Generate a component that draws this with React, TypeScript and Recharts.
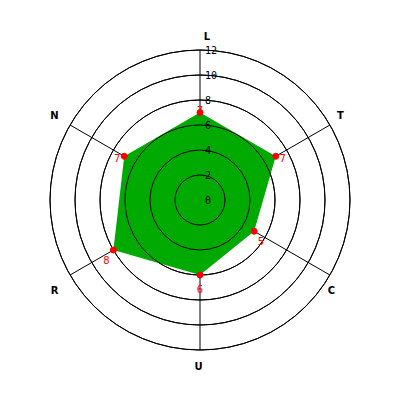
import React from 'react';
import { RadarChart, Radar, PolarGrid, PolarAngleAxis, PolarRadiusAxis } from 'recharts';

const categories = ['L', 'T', 'C', 'U', 'R', 'N'];
const values = [7, 7, 5, 6, 8, 7];
const radiusTicks = [0, 2, 4, 6, 8, 10, 12];
const radiusMax = 12;

const data = categories.map((c, i) => ({ axis: c, value: values[i] }));

const W = 400;
const H = 400;
const CX = 192;
const CY = 192;
const OUTER = 150;
const LABEL_R = 168;
const NUDGE: Record<string, [number, number]> = {
  L: [7, 4],
  T: [-5, -1],
  C: [-14, 6],
  U: [-1.5, -1.5],
  R: [0, 6],
  N: [0, -1],
};

const AngleTick = (props: any) => {
  const { x, y, payload } = props;
  const dx = x - CX;
  const dy = y - CY;
  const len = Math.sqrt(dx * dx + dy * dy) || 1;
  const n = NUDGE[payload.value] || [0, 0];
  const tx = CX + (dx / len) * LABEL_R + n[0];
  const ty = CY + (dy / len) * LABEL_R + n[1];
  return (
    <text x={tx} y={ty} textAnchor="middle" dominantBaseline="central"
      fontFamily="DejaVu Sans" fontWeight="bold" fontSize={10} fill="#000">
      {payload.value}
    </text>
  );
};

const RadiusTick = (props: any) => {
  const { x, y, payload } = props;
  return (
    <text x={x + 5} y={y} textAnchor="start" dominantBaseline="central"
      fontFamily="DejaVu Sans Mono" fontSize={10} fill="#000">
      {payload.value}
    </text>
  );
};

const ValueLabel = (props: any) => {
  const { x, y, value } = props;
  const dx = x - CX;
  const dy = y - CY;
  const len = Math.sqrt(dx * dx + dy * dy) || 1;
  const tx = x + (dx / len) * 8;
  const ty = y + (dy / len) * 8 + 6;
  return (
    <text x={tx} y={ty} textAnchor="middle" dominantBaseline="central"
      fontFamily="DejaVu Sans" fontSize={10} fill="#ff0000">
      {value}
    </text>
  );
};

// Polygon plus grid circles drawn over it (the reference shows rings on top of the fill)
const RadarShape = (props: any) => {
  const { points } = props;
  if (!points || !points.length) return null;
  const d = points.map((p: any, i: number) => `${i === 0 ? 'M' : 'L'}${p.x},${p.y}`).join(' ') + ' Z';
  const ref = points.find((p: any) => p.value > 0) || points[0];
  const pxPerUnit = ref.radius / ref.value;
  const cx = ref.cx;
  const cy = ref.cy;
  return (
    <g>
      <path d={d} fill="#00aa00" stroke="none" />
      {radiusTicks.filter((t) => t > 0).map((t) => (
        <circle key={t} cx={cx} cy={cy} r={t * pxPerUnit} fill="none" stroke="#000" strokeWidth={1} />
      ))}
    </g>
  );
};

export default function App() {
  const gridRadii = radiusTicks.filter((t) => t > 0).map((t) => (t / radiusMax) * OUTER);
  return (
    <RadarChart width={W} height={H} data={data} cx={CX} cy={CY} outerRadius={OUTER}
      startAngle={90} endAngle={-270} margin={{ top: 0, right: 0, bottom: 0, left: 0 }}>
      <PolarGrid gridType="circle" stroke="#000" strokeOpacity={1} polarRadius={gridRadii} />
      <PolarAngleAxis dataKey="axis" tick={<AngleTick />} tickLine={false} axisLine={false} />
      <Radar dataKey="value" fill="#00aa00" fillOpacity={1} stroke="none"
        isAnimationActive={false}
        shape={<RadarShape />}
        dot={{ r: 3, fill: '#ff0000', stroke: '#ff0000', strokeWidth: 1 }}
        label={<ValueLabel />} />
      <PolarRadiusAxis angle={90} domain={[0, radiusMax]} ticks={radiusTicks} tickCount={7}
        axisLine={false} tick={<RadiusTick />} />
    </RadarChart>
  );
}
